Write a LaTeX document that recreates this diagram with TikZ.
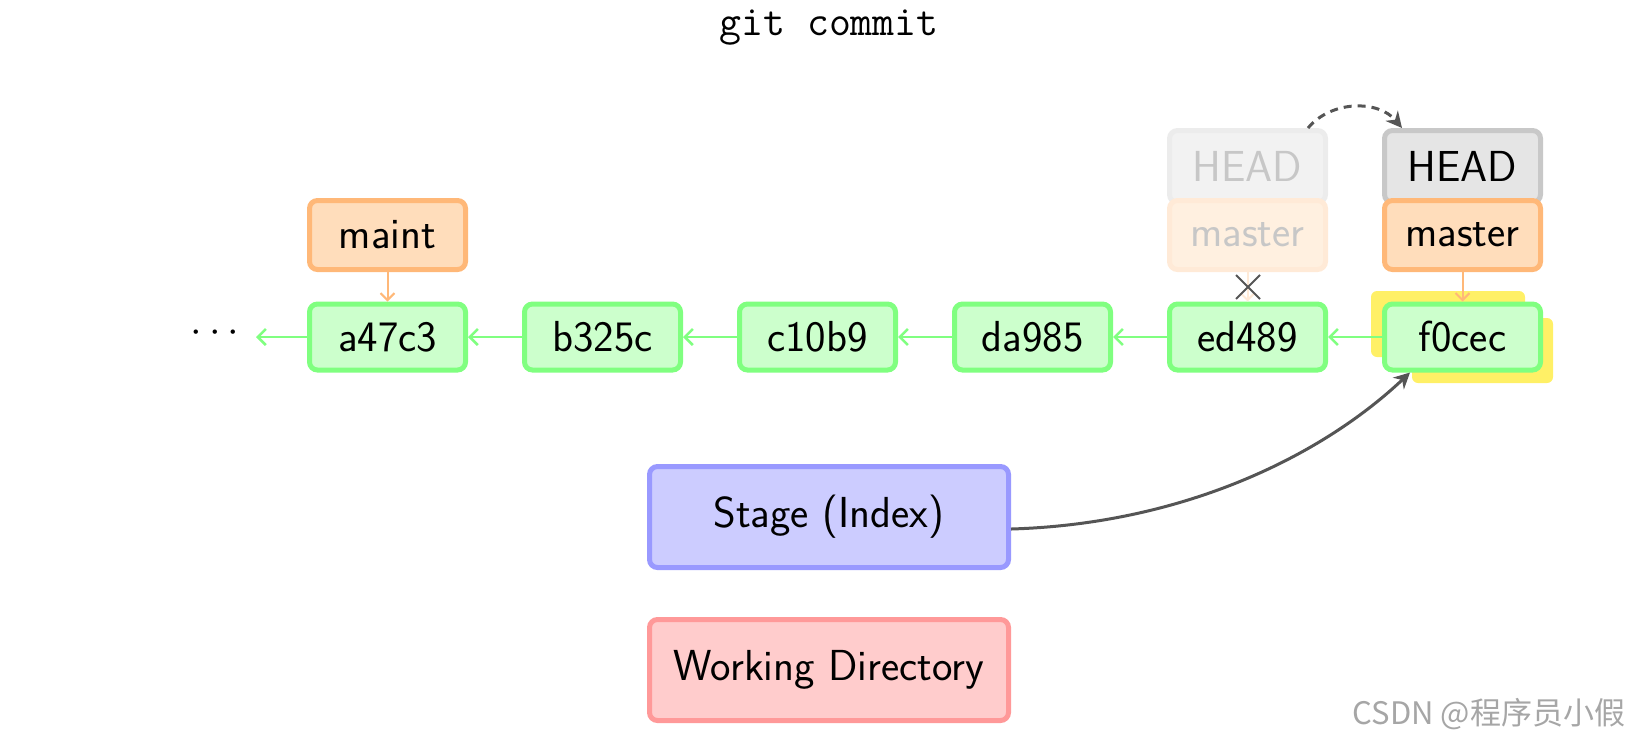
\documentclass[tikz,border=0pt]{standalone}
\usepackage{fontspec}
\newfontfamily\cjkfont{Noto Sans CJK SC}
\usetikzlibrary{
    arrows.meta,   % Modern arrow tips
    shapes.misc,   % Cross out shape
    backgrounds    % Background layers
}
\definecolor{commitline}{HTML}{80FF80}
\definecolor{commitfill}{HTML}{CCFFCC}
\definecolor{branchline}{HTML}{FFB878}
\definecolor{branchfill}{HTML}{FFDDBB}
\definecolor{headline}{HTML}{C8C8C8}
\definecolor{headfill}{HTML}{E5E5E5}
\definecolor{stageline}{HTML}{9999FF}
\definecolor{stagefill}{HTML}{CCCCFF}
\definecolor{workline}{HTML}{FF9999}
\definecolor{workfill}{HTML}{FFCCCC}
\definecolor{marker}{HTML}{FFF066}
\definecolor{linkgray}{HTML}{555555}

\begin{document}
\begin{tikzpicture}[x=0.5pt,y=-0.5pt,
    box/.style={rectangle,rounded corners=4pt,line width=2.5pt,inner sep=0pt,
        minimum width=78pt,minimum height=33pt,
        font=\sffamily\fontsize{21.7}{25}\selectfont},
    commit/.style={box,draw=commitline,fill=commitfill},
    branch/.style={box,draw=branchline,fill=branchfill,minimum height=34.5pt},
    headref/.style={box,draw=headline,fill=headfill,minimum height=36pt},
    oldbranch/.style={branch,draw=branchline!30,fill=branchfill!45,text=black!22},
    oldhead/.style={headref,draw=headline!35,fill=headfill!50,text=black!22},
    area/.style={box,minimum width=179.5pt,minimum height=50.5pt},
    parent/.style={draw=commitline,line width=1.3pt,-{Straight Barb[length=4pt,width=8pt]}},
    pointer/.style={draw=branchline,line width=1pt,-{Straight Barb[length=3.5pt,width=7pt]}},
    move/.style={draw=linkgray,line width=1.5pt,-{Stealth[length=8pt,width=8pt]}}
]
    \useasboundingbox (0,0) rectangle (1631,741);
    \node[font=\ttfamily\fontsize{21.3}{25}\selectfont] (title) at (829,28) {git commit};

    % history
    \node[font=\fontsize{21}{25}\selectfont,inner sep=0pt] (dots) at (215,333) {$\cdots$};
    \coordinate (tail) at (256,337);
    \foreach \name [count=\i from 0] in {a47c3,b325c,c10b9,da985,ed489,f0cec}
        \node[commit] (\name) at (387.5+215*\i,337) {\name};
    \draw[parent] (a47c3.west) -- (tail);
    \draw[parent] (b325c.west) -- (a47c3.east);
    \draw[parent] (c10b9.west) -- (b325c.east);
    \draw[parent] (da985.west) -- (c10b9.east);
    \draw[parent] (ed489.west) -- (da985.east);
    \draw[parent] (f0cec.west) -- (ed489.east);

    % new commit highlight
    \begin{scope}[on background layer]
        \fill[marker,rounded corners=3pt] (1371,291) rectangle (1525,357);
        \fill[marker,rounded corners=3pt] (1412,318) rectangle (1553,383);
    \end{scope}

    % branches
    \node[branch] (maint) at (387.5,235) {maint};
    \draw[pointer] (maint.south) -- (a47c3.north);

    \node[oldhead] (oldHEAD) at (1247.5,166.5) {HEAD};
    \node[oldbranch] (oldmaster) at (1247.5,235) {master};
    \draw[pointer,draw=branchline!30] (oldmaster.south) -- (ed489.north);
    \node[draw=linkgray,cross out,line width=1pt,minimum size=11pt,inner sep=0pt] (ex) at (1248,287) {};

    \node[headref] (HEAD) at (1462.5,166.5) {HEAD};
    \node[branch] (master) at (1462.5,235) {master};
    \draw[pointer] (master.south) -- (f0cec.north);

    \draw[move,dashed,dash pattern=on 4pt off 3pt] ([xshift=-10pt]oldHEAD.north east)
        to[bend left=50] ([xshift=10pt]HEAD.north west);

    % areas
    \node[area,draw=stageline,fill=stagefill] (stage) at (829,517) {Stage (Index)};
    \node[area,draw=workline,fill=workfill] (work) at (829,670) {Working Directory};
    \draw[move] ([yshift=-6pt]stage.east) .. controls +(170,-5) and +(-90,85) .. ([xshift=14pt]f0cec.south west);

    \node[font=\cjkfont\fontsize{15.5}{18}\selectfont,text=black!35] (mark) at (1489,714) {CSDN @程序员小假};
\end{tikzpicture}
\end{document}
